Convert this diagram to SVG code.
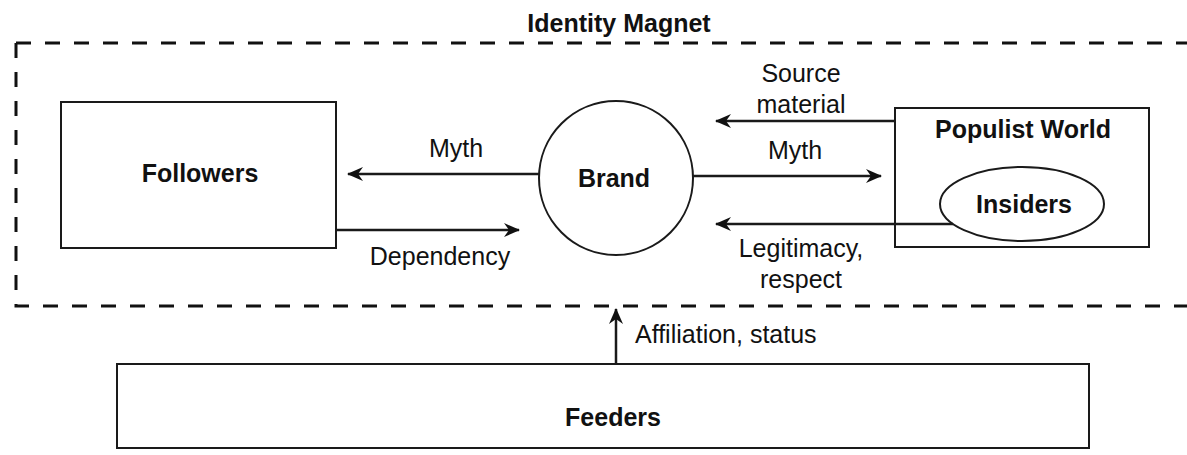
<svg xmlns="http://www.w3.org/2000/svg" width="1187" height="455" viewBox="0 0 1187 455">
<style>
.box{fill:none;stroke:#1a1a1a;stroke-width:2}
.dash{fill:none;stroke:#111;stroke-width:3;stroke-dasharray:15 14}
.conn{fill:none;stroke:#1a1a1a;stroke-width:2.5}
.node{font-family:"Liberation Sans",Arial,sans-serif;font-size:25px;font-weight:bold;fill:#111;text-anchor:middle}
.lbl{font-family:"Liberation Sans",Arial,sans-serif;font-size:25px;fill:#111;text-anchor:middle}
.lbl-start{font-family:"Liberation Sans",Arial,sans-serif;font-size:25px;fill:#111;text-anchor:start}
</style>
<defs>
<marker id="ah" viewBox="0 0 16 14" refX="15" refY="7" markerWidth="16" markerHeight="14" markerUnits="userSpaceOnUse" orient="auto">
<path d="M0,0 L16,7 L0,14 L5,7 Z" fill="#111"/>
</marker>
</defs>
<rect width="1187" height="455" fill="#fff"/>
<g id="identity-magnet">
<path class="dash" d="M16,43 H1190"/>
<path class="dash" d="M16,43 V306 H1190"/>
<text class="node" x="619" y="32">Identity Magnet</text>
</g>
<g id="followers">
<rect class="box" x="61" y="102" width="275" height="146"/>
<text class="node" x="200" y="182">Followers</text>
</g>
<g id="brand">
<circle class="box" cx="616" cy="178" r="77" stroke-width="1.8"/>
<text class="node" x="614" y="187">Brand</text>
</g>
<g id="populist-world">
<rect class="box" x="895" y="108" width="254" height="139"/>
<text class="node" x="1023" y="138">Populist World</text>
</g>
<g id="insiders">
<ellipse class="box" cx="1022" cy="204" rx="82" ry="37" stroke-width="1.8"/>
<text class="node" x="1024" y="213">Insiders</text>
</g>
<g id="feeders">
<rect class="box" x="117" y="364" width="972" height="84"/>
<text class="node" x="613" y="426">Feeders</text>
</g>
<g id="connectors">
<line class="conn" x1="539" y1="174" x2="348" y2="174" marker-end="url(#ah)"/>
<text class="lbl" x="456" y="157">Myth</text>
<line class="conn" x1="336" y1="230" x2="519" y2="230" marker-end="url(#ah)"/>
<text class="lbl" x="440" y="265">Dependency</text>
<line class="conn" x1="693" y1="176" x2="881" y2="176" marker-end="url(#ah)"/>
<text class="lbl" x="795" y="159">Myth</text>
<line class="conn" x1="895" y1="121" x2="716" y2="121" marker-end="url(#ah)"/>
<text class="lbl" x="801" y="82">Source</text>
<text class="lbl" x="801" y="113">material</text>
<line class="conn" x1="953" y1="224" x2="716" y2="224" marker-end="url(#ah)"/>
<text class="lbl" x="801" y="257">Legitimacy,</text>
<text class="lbl" x="801" y="288">respect</text>
<line class="conn" x1="616" y1="364" x2="616" y2="309" marker-end="url(#ah)"/>
<text class="lbl-start" x="635" y="343">Affiliation, status</text>
</g>
</svg>
